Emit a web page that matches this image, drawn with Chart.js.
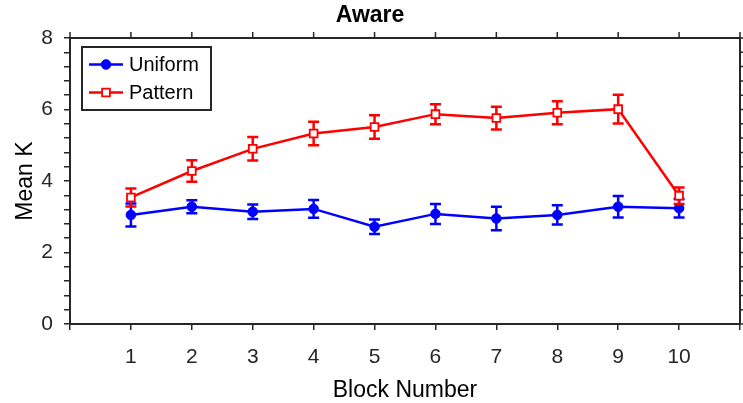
<!DOCTYPE html>
<html>
<head>
<meta charset="utf-8">
<script src="https://cdn.jsdelivr.net/npm/chart.js@4/dist/chart.umd.min.js"></script>
<style>
html,body{margin:0;padding:0;background:#fff;}
#wrap{width:743px;height:403px;position:relative;}
</style>
</head>
<body>
<div id="wrap"><canvas id="c" width="743" height="403"></canvas></div>
<script>
const titleText = "Aware";
const xTitle = "Block Number";
const yTitle = "Mean K";
const blocks = [1,2,3,4,5,6,7,8,9,10];
const seriesNames = ["Uniform","Pattern"];
const uniformMean = [3.05,3.28,3.14,3.22,2.72,3.08,2.95,3.05,3.28,3.24];
const uniformErr  = [0.32,0.18,0.20,0.25,0.20,0.28,0.33,0.27,0.30,0.26];
const patternMean = [3.54,4.28,4.90,5.33,5.51,5.87,5.76,5.91,6.01,3.59];
const patternErr  = [0.25,0.30,0.33,0.33,0.33,0.28,0.32,0.32,0.40,0.23];
const yMajorTicks = [0,2,4,6,8];
const xTickLabels = ["1","2","3","4","5","6","7","8","9","10"];

const AX = '#262626';
const FONT = "'Liberation Sans', Arial, Helvetica, sans-serif";

function pts(means){ return blocks.map((b,i)=>({x:b,y:means[i]})); }

const errorBars = {
  id:'errorBars',
  beforeDatasetDraw(chart, args){
    const ds = chart.data.datasets[args.index];
    const errs = ds.errs; if(!errs) return;
    const xs = chart.scales.x, ys = chart.scales.y, ctx = chart.ctx;
    ctx.save();
    ctx.strokeStyle = ds.borderColor; ctx.lineWidth = 2.5; ctx.lineCap='butt';
    ds.data.forEach((p,i)=>{
      const px = xs.getPixelForValue(p.x);
      const top = ys.getPixelForValue(p.y + errs[i]);
      const bot = ys.getPixelForValue(p.y - errs[i]);
      const w = 5.5;
      ctx.beginPath();
      ctx.moveTo(px, top); ctx.lineTo(px, bot);
      ctx.moveTo(px-w, top); ctx.lineTo(px+w, top);
      ctx.moveTo(px-w, bot); ctx.lineTo(px+w, bot);
      ctx.stroke();
    });
    ctx.restore();
  }
};

const frame = {
  id:'frame',
  afterDraw(chart){
    const {ctx, chartArea:a} = chart;
    const xs = chart.scales.x, ys = chart.scales.y;
    ctx.save();
    ctx.strokeStyle = AX; ctx.lineWidth = 2;
    ctx.beginPath();
    ctx.moveTo(a.left, a.top); ctx.lineTo(a.right, a.top); ctx.lineTo(a.right, a.bottom);
    ctx.stroke();
    ctx.lineWidth = 1.5;
    ctx.beginPath();
    xs.ticks.forEach(t=>{ const px = xs.getPixelForValue(t.value); ctx.moveTo(px, a.top); ctx.lineTo(px, a.top-6); });
    ys.ticks.forEach(t=>{ const py = ys.getPixelForValue(t.value); ctx.moveTo(a.right, py); ctx.lineTo(a.right+6, py); });
    ctx.stroke();
    // legend
    const lx=82, ly=47, lw=129, lh=63;
    ctx.fillStyle='#fff'; ctx.fillRect(lx,ly,lw,lh);
    ctx.lineWidth=2; ctx.strokeStyle=AX; ctx.strokeRect(lx,ly,lw,lh);
    const rows=[{y:64.5,ds:chart.data.datasets[0]},{y:92.5,ds:chart.data.datasets[1]}];
    rows.forEach(r=>{
      ctx.strokeStyle=r.ds.borderColor; ctx.lineWidth=2.5;
      ctx.beginPath(); ctx.moveTo(89,r.y); ctx.lineTo(123,r.y); ctx.stroke();
      ctx.fillStyle=r.ds.pointBackgroundColor; ctx.strokeStyle=r.ds.borderColor; ctx.lineWidth=r.ds.pointBorderWidth;
      ctx.beginPath();
      if(r.ds.pointStyle==='circle'){ ctx.arc(106,r.y,r.ds.pointRadius,0,Math.PI*2); }
      else { const s=r.ds.pointRadius*Math.SQRT1_2; ctx.rect(106-s,r.y-s,2*s,2*s); }
      ctx.fill(); ctx.stroke();
      ctx.fillStyle='#000'; ctx.font="20px "+FONT; ctx.textBaseline='middle'; ctx.textAlign='left';
      ctx.fillText(r.ds.label,129,r.y+1);
    });
    ctx.restore();
  }
};

new Chart(document.getElementById('c'), {
  type:'line',
  data:{
    datasets:[
      {label:seriesNames[0], data:pts(uniformMean), errs:uniformErr, borderColor:'#0000ff', backgroundColor:'#0000ff',
       pointBackgroundColor:'#0000ff', pointBorderColor:'#0000ff', pointStyle:'circle', pointRadius:4.8, pointBorderWidth:1,
       borderWidth:2.5, tension:0, order:2},
      {label:seriesNames[1], data:pts(patternMean), errs:patternErr, borderColor:'#ff0000', backgroundColor:'#ffffff',
       pointBackgroundColor:'#ffffff', pointBorderColor:'#ff0000', pointStyle:'rect', pointRadius:5.5, pointBorderWidth:1.8,
       borderWidth:2.5, tension:0, order:1}
    ]
  },
  options:{
    responsive:false, animation:false, devicePixelRatio:1,
    layout:{autoPadding:false, padding:{top:0,right:3,left:0,bottom:0}},
    plugins:{
      legend:{display:false}, tooltip:{enabled:false},
      title:{display:true, text:titleText, color:'#000', font:{family:FONT, size:23, weight:'bold'}, padding:{top:2,bottom:8.4}}
    },
    scales:{
      x:{type:'linear', min:0, max:11,
        afterFit(s){ s.height = 79; s.paddingLeft = 0; s.paddingRight = 0; },
        ticks:{stepSize:1, autoSkip:false, maxRotation:0, color:'#262626', font:{family:FONT,size:21}, padding:15,
          callback:(v)=> (v>=1 && v<=10) ? xTickLabels[v-1] : ''},
        grid:{drawOnChartArea:false, drawTicks:true, tickLength:6, color:AX, lineWidth:1.5},
        border:{display:true, color:AX, width:2},
        title:{display:true, text:xTitle, color:'#000', font:{family:FONT,size:23}, padding:{top:0,bottom:-1}}
      },
      y:{type:'linear', min:0, max:8,
        afterFit(s){ s.width = 70; s.paddingTop = 0; s.paddingBottom = 0; },
        afterBuildTicks(s){ const t=[]; for(let i=0;i<=20;i++){ t.push({value: Math.round(i*0.4*10)/10}); } s.ticks=t; },
        ticks:{autoSkip:false, color:'#262626', font:{family:FONT,size:21}, padding:11,
          callback:(v)=> yMajorTicks.includes(v) ? String(v) : ''},
        grid:{drawOnChartArea:false, drawTicks:true, tickLength:6, color:AX, lineWidth:1.5},
        border:{display:true, color:AX, width:2},
        title:{display:true, text:yTitle, color:'#000', font:{family:FONT,size:23}, padding:{top:12,bottom:0}}
      }
    }
  },
  plugins:[errorBars, frame]
});
</script>
</body>
</html>
